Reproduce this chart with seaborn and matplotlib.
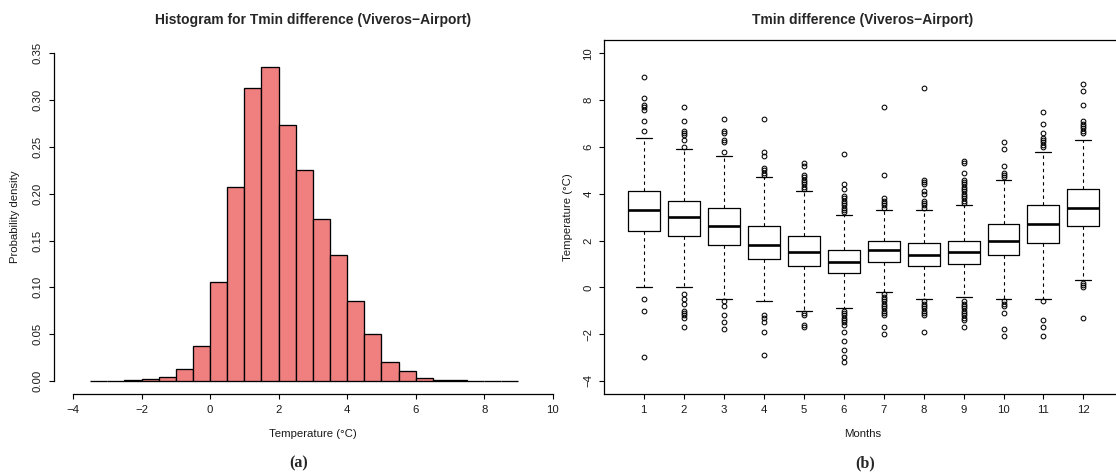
import matplotlib
matplotlib.use("Agg")
import matplotlib.pyplot as plt
import seaborn as sns

# ---- (a) histogram of the Tmin difference: 0.5 °C bins and their densities ----
bin_edges = [-3.5, -3.0, -2.5, -2.0, -1.5, -1.0, -0.5, 0.0, 0.5, 1.0, 1.5, 2.0, 2.5,
             3.0, 3.5, 4.0, 4.5, 5.0, 5.5, 6.0, 6.5, 7.0, 7.5, 8.0, 8.5, 9.0]
density = [0.0004, 0.0004, 0.0007, 0.0018, 0.0043, 0.0125, 0.0371, 0.1054, 0.2075,
           0.3128, 0.3350, 0.2740, 0.2255, 0.1734, 0.1350, 0.0857, 0.0500, 0.0204,
           0.0107, 0.0029, 0.0011, 0.0007, 0.0004, 0.0004, 0.0003]

# ---- (b) monthly box statistics of the Tmin difference (°C) ----
months = [1, 2, 3, 4, 5, 6, 7, 8, 9, 10, 11, 12]
q1 = [2.4, 2.2, 1.8, 1.2, 0.9, 0.6, 1.1, 0.9, 1.0, 1.4, 1.9, 2.6]
median = [3.3, 3.0, 2.6, 1.8, 1.5, 1.1, 1.6, 1.4, 1.5, 2.0, 2.7, 3.4]
q3 = [4.1, 3.7, 3.4, 2.6, 2.2, 1.6, 2.0, 1.9, 2.0, 2.7, 3.5, 4.2]
whisker_low = [0.0, 0.0, -0.5, -0.6, -1.0, -0.9, -0.2, -0.5, -0.4, -0.5, -0.5, 0.3]
whisker_high = [6.4, 5.9, 5.6, 4.7, 4.1, 3.1, 3.3, 3.3, 3.5, 4.6, 5.8, 6.3]
outliers_high = [
    [6.7, 7.1, 7.6, 7.7, 7.8, 8.1, 9.0],
    [6.0, 6.3, 6.5, 6.6, 6.7, 7.1, 7.7],
    [5.8, 6.2, 6.3, 6.6, 6.7, 7.2],
    [4.8, 4.9, 5.0, 5.1, 5.6, 5.8, 7.2],
    [4.2, 4.3, 4.4, 4.5, 4.6, 4.7, 4.8, 5.2, 5.3],
    [3.2, 3.3, 3.4, 3.5, 3.6, 3.7, 3.8, 3.9, 4.2, 4.4, 5.7],
    [3.4, 3.5, 3.6, 3.7, 3.8, 4.8, 7.7],
    [3.4, 3.5, 3.6, 3.7, 4.0, 4.1, 4.4, 4.5, 4.6, 8.5],
    [3.6, 3.7, 3.8, 3.9, 4.0, 4.1, 4.2, 4.3, 4.4, 4.5, 4.6, 4.9, 5.3, 5.4],
    [4.7, 4.8, 4.9, 5.2, 5.9, 6.2],
    [6.0, 6.1, 6.2, 6.3, 6.4, 6.6, 7.0, 7.5],
    [6.6, 6.7, 6.8, 6.9, 7.0, 7.1, 7.8, 8.4, 8.7],
]
outliers_low = [
    [-0.5, -1.0, -3.0],
    [-0.3, -0.5, -0.7, -1.0, -1.1, -1.2, -1.3, -1.7],
    [-0.6, -0.8, -1.2, -1.5, -1.8],
    [-1.2, -1.3, -1.5, -1.9, -2.9],
    [-1.1, -1.2, -1.6, -1.7],
    [-1.0, -1.1, -1.2, -1.3, -1.4, -1.5, -1.6, -1.9, -2.3, -2.7, -3.0, -3.2],
    [-0.3, -0.4, -0.5, -0.6, -0.7, -0.8, -0.9, -1.0, -1.1, -1.2, -1.7, -2.0],
    [-0.6, -0.7, -0.8, -0.9, -1.0, -1.1, -1.2, -1.9],
    [-0.6, -0.7, -0.8, -0.9, -1.0, -1.1, -1.2, -1.3, -1.4, -1.7],
    [-0.6, -0.7, -0.8, -1.1, -1.8, -2.1],
    [-0.6, -1.4, -1.7, -2.1],
    [0.2, 0.1, 0.0, -1.3],
]

hist_ticks_x = [-4, -2, 0, 2, 4, 6, 8, 10]
hist_ticks_y = [0.00, 0.05, 0.10, 0.15, 0.20, 0.25, 0.30, 0.35]
box_ticks_y = [-4, -2, 0, 2, 4, 6, 8, 10]

sns.set_style("ticks")
plt.rcParams["font.family"] = ["Liberation Sans", "DejaVu Sans"]
plt.rcParams["axes.unicode_minus"] = True

W, H = 1116, 474
fig = plt.figure(figsize=(W / 100, H / 100), dpi=100)


def fx(x):
    return x / W


def fy(y):
    return 1 - y / H


TICK_FS = 8.2
LABEL_FS = 8.2
TITLE_FS = 10

ax1 = fig.add_axes([0.0482, 0.1688, 0.4643, 0.7462])
ax2 = fig.add_axes([0.5415, 0.1688, 0.4645, 0.7462])

# ---- histogram ----
centers = [(a + b) / 2 for a, b in zip(bin_edges[:-1], bin_edges[1:])]
sns.histplot(x=centers, weights=density, bins=bin_edges, stat="count",
             color="#F08080", edgecolor="black", linewidth=0.95, alpha=1.0, ax=ax1)
ax1.set_xlim(-4.56, 10.56)
ax1.set_ylim(-0.014, 0.364)
ax1.set_xlabel("")
ax1.set_ylabel("")
ax1.set_xticks(hist_ticks_x)
ax1.set_yticks(hist_ticks_y)
ax1.set_yticklabels([f"{v:.2f}" for v in hist_ticks_y])
for s in ("top", "right"):
    ax1.spines[s].set_visible(False)
ax1.spines["left"].set_bounds(0, 0.35)
ax1.spines["bottom"].set_bounds(-4, 10)

# ---- monthly boxplots ----
stats = []
for i, m in enumerate(months):
    stats.append(dict(med=median[i], q1=q1[i], q3=q3[i],
                      whislo=whisker_low[i], whishi=whisker_high[i],
                      fliers=outliers_high[i] + outliers_low[i], label=str(m)))
ax2.bxp(stats, positions=months, widths=0.8, capwidths=0.4, showfliers=True,
        boxprops=dict(color="black", linewidth=0.9),
        medianprops=dict(color="black", linewidth=1.9, solid_capstyle="butt"),
        whiskerprops=dict(color="black", linewidth=0.8, linestyle=(0, (3, 3))),
        capprops=dict(color="black", linewidth=0.9),
        flierprops=dict(marker="o", markerfacecolor="none", markeredgecolor="black",
                        markersize=3.4, markeredgewidth=0.75, linestyle="none"))
ax2.set_xlim(0.02, 12.98)
ax2.set_ylim(-4.56, 10.56)
ax2.set_xticks(months)
ax2.set_xticklabels([str(m) for m in months])
ax2.set_yticks(box_ticks_y)

for ax in (ax1, ax2):
    for s in ax.spines.values():
        s.set_linewidth(0.9)
        s.set_color("black")
    ax.tick_params(axis="both", direction="out", length=3.8, width=0.8, color="black",
                   labelsize=TICK_FS, labelcolor="#1a1a1a", pad=4)
    ax.tick_params(axis="y", labelrotation=90)
    for lab in ax.get_yticklabels():
        lab.set_va("center")

# ---- titles, axis labels, captions ----
fig.text(fx(313), fy(20), "Histogram for Tmin difference (Viveros\u2212Airport)",
         ha="center", va="center", fontsize=TITLE_FS, fontweight="bold")
fig.text(fx(863), fy(20), "Tmin difference (Viveros\u2212Airport)",
         ha="center", va="center", fontsize=TITLE_FS, fontweight="bold")
fig.text(fx(313), fy(434), "Temperature (\u00b0C)", ha="center", va="center",
         fontsize=LABEL_FS, color="#1a1a1a")
fig.text(fx(863), fy(434), "Months", ha="center", va="center",
         fontsize=LABEL_FS, color="#1a1a1a")
fig.text(fx(15), fy(217), "Probability density", ha="center", va="center",
         rotation=90, fontsize=LABEL_FS, color="#1a1a1a")
fig.text(fx(568), fy(217), "Temperature (\u00b0C)", ha="center", va="center",
         rotation=90, fontsize=LABEL_FS, color="#1a1a1a")
fig.text(fx(299), fy(463), "(a)", ha="center", va="center", fontsize=11.5,
         fontweight="bold", family=["Liberation Serif", "DejaVu Serif"])
fig.text(fx(865), fy(463), "(b)", ha="center", va="center", fontsize=11.5,
         fontweight="bold", family=["Liberation Serif", "DejaVu Serif"])

fig.savefig("out.png", dpi=100, facecolor="white")
